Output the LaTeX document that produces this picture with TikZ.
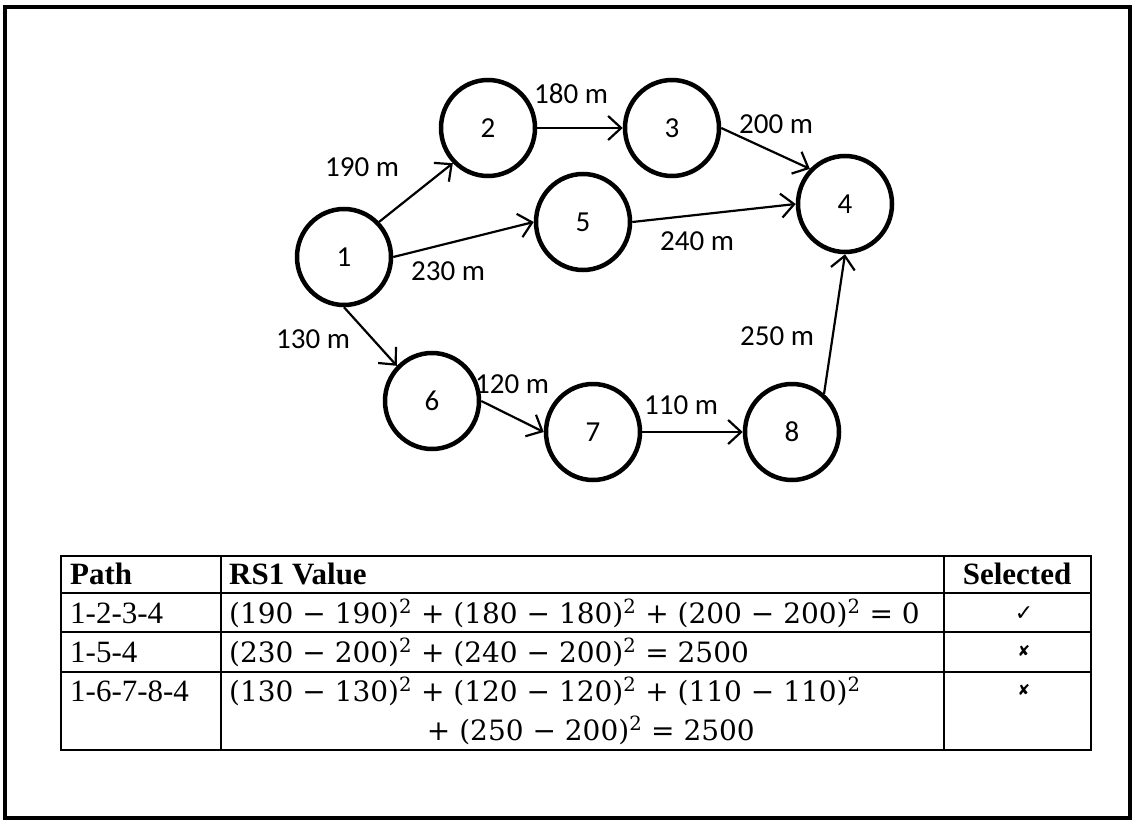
\documentclass[tikz,border=0pt]{standalone}
\usepackage{fontspec}
\setmainfont{Liberation Serif}
\newfontfamily\lblfont{Carlito}
\newfontfamily\symfont{DejaVu Sans}
\newfontfamily\eqfont{DejaVu Serif}
\usetikzlibrary{arrows.meta,shapes.geometric}
\newcommand{\sqr}{\textsuperscript{2}}
\begin{document}
\begin{tikzpicture}[x=1pt,y=-1pt,
  nd/.style={draw, line width=4.5pt, ellipse, minimum width=94pt, minimum height=96pt, inner sep=0pt, font=\lblfont\fontsize{29}{32}\selectfont},
  lbl/.style={font=\lblfont\fontsize{29}{32}\selectfont, inner sep=0pt},
  edge/.style={line width=2.2pt, -{Straight Barb[length=13pt,width=24pt]}},
  tline/.style={line width=1.4pt},
  tt/.style={font=\fontsize{31}{34}\selectfont, inner sep=0pt},
  mt/.style={font=\eqfont\fontsize{28}{32}\selectfont, inner sep=0pt},
  sym/.style={font=\symfont\fontsize{22}{24}\selectfont, inner sep=0pt},
  xsym/.style={font=\symfont\fontsize{15}{18}\selectfont, inner sep=0pt}
]
\useasboundingbox (0,0) rectangle (1134,821);
\draw[line width=4pt] (5,7) rectangle (1130,818);

% nodes
\node[nd] (n1) at (344,257) {1};
\node[nd] (n2) at (488,128) {2};
\node[nd] (n3) at (672,128) {3};
\node[nd] (n4) at (845,204) {4};
\node[nd] (n5) at (583,222) {5};
\node[nd] (n6) at (432,401) {6};
\node[nd] (n7) at (593,432) {7};
\node[nd] (n8) at (792,432) {8};

% edges
\draw[edge] (n1.45) -- (n2.225);
\draw[edge] (n2.east) -- (n3.west);
\draw[edge] (n3.east) -- (n4.135);
\draw[edge] (n1.east) -- (n5.west);
\draw[edge] (n5.east) -- (n4.west);
\draw[edge] (n1.south) -- (n6.135);
\draw[edge] (n6.east) -- (n7.west);
\draw[edge] (n7.east) -- (n8.west);
\draw[edge] (n8.50) -- (n4.south);

% edge labels
\node[lbl] (l12) at (362,167) {190 m};
\node[lbl] (l23) at (571,94) {180 m};
\node[lbl] (l34) at (776,124) {200 m};
\node[lbl] (l15) at (448,271) {230 m};
\node[lbl] (l54) at (697,241) {240 m};
\node[lbl] (l16) at (313,339) {130 m};
\node[lbl] (l67) at (512,384) {120 m};
\node[lbl] (l78) at (681,405) {110 m};
\node[lbl] (l84) at (777,336) {250 m};

% table
\draw[tline] (61,556) rectangle (1091,750);
\draw[tline] (61,593) -- (1091,593);
\draw[tline] (61,632) -- (1091,632);
\draw[tline] (61,672) -- (1091,672);
\draw[tline] (221,556) -- (221,750);
\draw[tline] (944,556) -- (944,750);

\node[tt, anchor=base west] (h1) at (70,584) {\bfseries Path};
\node[tt, anchor=base west] (h2) at (229,584) {\bfseries RS1 Value};
\node[tt, anchor=base] (h3) at (1017,584) {\bfseries Selected};

\node[tt, anchor=base west] (p1) at (70,623) {1-2-3-4};
\node[tt, anchor=base west] (p2) at (70,662) {1-5-4};
\node[tt, anchor=base west] (p3) at (70,701) {1-6-7-8-4};

\node[mt, anchor=base west] (v1) at (229,623) {(190 − 190)\sqr{} + (180 − 180)\sqr{} + (200 − 200)\sqr{} = 0};
\node[mt, anchor=base west] (v2) at (229,662) {(230 − 200)\sqr{} + (240 − 200)\sqr{} = 2500};
\node[mt, anchor=base west] (v3a) at (229,701) {(130 − 130)\sqr{} + (120 − 120)\sqr{} + (110 − 110)\sqr};
\node[mt, anchor=base east] (v3b) at (755,740) {+ (250 − 200)\sqr{} = 2500};

\node[sym, anchor=base] (s1) at (1024,620) {✓};
\node[xsym, anchor=base] (s2) at (1024,656) {✘};
\node[xsym, anchor=base] (s3) at (1024,695) {✘};
\end{tikzpicture}
\end{document}
